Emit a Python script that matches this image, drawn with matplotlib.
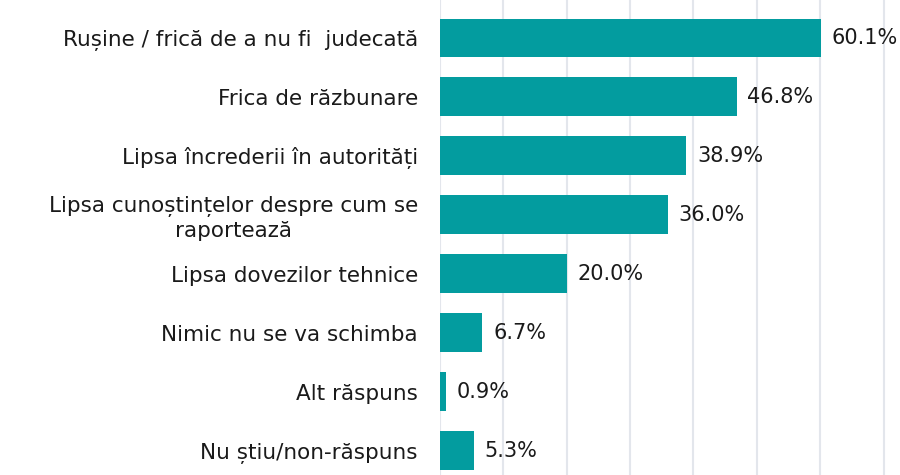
import matplotlib.pyplot as plt

categories = [
    "Rușine / frică de a nu fi  judecată",
    "Frica de răzbunare",
    "Lipsa încrederii în autorități",
    "Lipsa cunoștințelor despre cum se\nraportează",
    "Lipsa dovezilor tehnice",
    "Nimic nu se va schimba",
    "Alt răspuns",
    "Nu știu/non-răspuns",
]
values = [60.1, 46.8, 38.9, 36.0, 20.0, 6.7, 0.9, 5.3]

plt.rcParams['font.family'] = ['DejaVu Sans']

fig = plt.figure(figsize=(9, 4.75), dpi=100)
ax = fig.add_axes([440 / 900, 0, 460 / 900, 1])

y = list(range(len(categories)))
ax.barh(y, values, height=0.66, color='#039C9F', zorder=2)

for yi, v in zip(y, values):
    ax.text(v + 1.7, yi, f"{v:.1f}%", va='center', ha='left', fontsize=15, color='#1a1a1a')

ax.set_yticks(y)
ax.set_yticklabels(categories, fontsize=15.5, color='#1a1a1a', multialignment='center',
                   linespacing=1.2)
ax.tick_params(axis='y', length=0, pad=16)
ax.tick_params(axis='x', length=0, labelbottom=False)

ax.set_xlim(0, 72.6)
ax.set_ylim(7.41, -0.644)
ax.set_xticks(range(0, 80, 10))
ax.grid(axis='x', color='#E3E6EC', linewidth=1.5, zorder=0)
for s in ax.spines.values():
    s.set_visible(False)

fig.savefig('out.png', dpi=100)
